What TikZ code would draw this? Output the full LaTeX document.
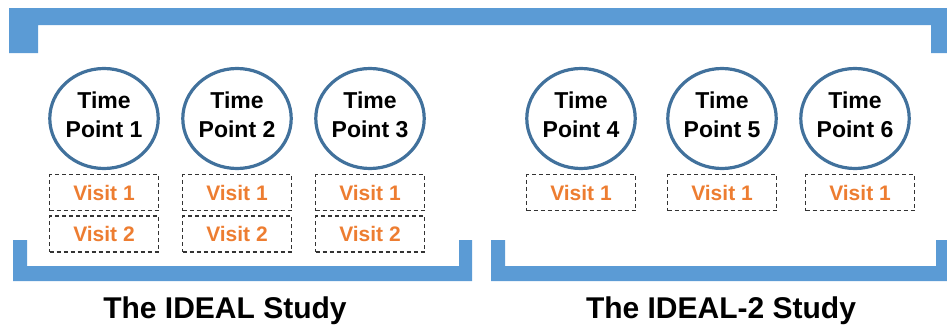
\documentclass[tikz,border=0pt]{standalone}
\usepackage{fontspec}
\setmainfont{Liberation Sans}
\usepackage{tikz}
\usetikzlibrary{positioning,shapes.geometric}
\definecolor{barblue}{HTML}{5B9BD5}
\definecolor{ringblue}{HTML}{41719C}
\definecolor{visitorange}{HTML}{ED7D31}
\tikzstyle{tp}    = [draw=ringblue,ellipse,line width=3.2pt,minimum width=105pt,minimum height=100pt,inner sep=0pt,text depth=8pt,align=center,font=\fontsize{23}{29}\selectfont\bfseries]
\tikzstyle{visit} = [draw=black!80,rectangle,line width=1.3pt,dash pattern=on 4pt off 3pt,minimum width=109pt,minimum height=36pt,text=visitorange,font=\fontsize{21}{25}\selectfont\bfseries]
\tikzstyle{study} = [anchor=base,font=\fontsize{30}{36}\selectfont\bfseries]
\tikzstyle{bar}   = [fill=barblue,draw=none]

\begin{document}
\begin{tikzpicture}[x=1pt,y=-1pt,node distance=133pt]
\useasboundingbox (0,0) rectangle (947,324);

% brackets
\path[bar] (9,53) -- (9,8) -- (947,8) -- (947,53) -- (931,53) -- (931,25) -- (38,25) -- (38,53) -- cycle;
\path[bar] (13,240) -- (13,281) -- (472,281) -- (472,240) -- (459,240) -- (459,266) -- (27,266) -- (27,240) -- cycle;
\path[bar] (491,240) -- (491,281) -- (947,281) -- (947,240) -- (936,240) -- (936,266) -- (505,266) -- (505,240) -- cycle;

% time points
\node[tp] (T1) at (104,118.5) {Time\\Point 1};
\node[tp] (T2) [right of=T1] {Time\\Point 2};
\node[tp] (T3) [right of=T2] {Time\\Point 3};
\node[tp] (T4) at (581,118.5) {Time\\Point 4};
\node[tp] (T5) [right of=T4,xshift=8pt] {Time\\Point 5};
\node[tp] (T6) [right of=T5] {Time\\Point 6};

% visits
\node[visit][below=4pt of T1](V11){Visit 1};
\node[visit][below=4pt of V11](V12){Visit 2};
\node[visit][below=4pt of T2](V21){Visit 1};
\node[visit][below=4pt of V21](V22){Visit 2};
\node[visit][below=4pt of T3](V31){Visit 1};
\node[visit][below=4pt of V31](V32){Visit 2};
\node[visit][below=4pt of T4](V41){Visit 1};
\node[visit][below=4pt of T5](V51){Visit 1};
\node[visit][below=4pt of T6,xshift=5pt](V61){Visit 1};

% study names
\node[study] (S1) at (225,318) {The IDEAL Study};
\node[study] (S2) at (721,318) {The IDEAL-2 Study};

\end{tikzpicture}
\end{document}
